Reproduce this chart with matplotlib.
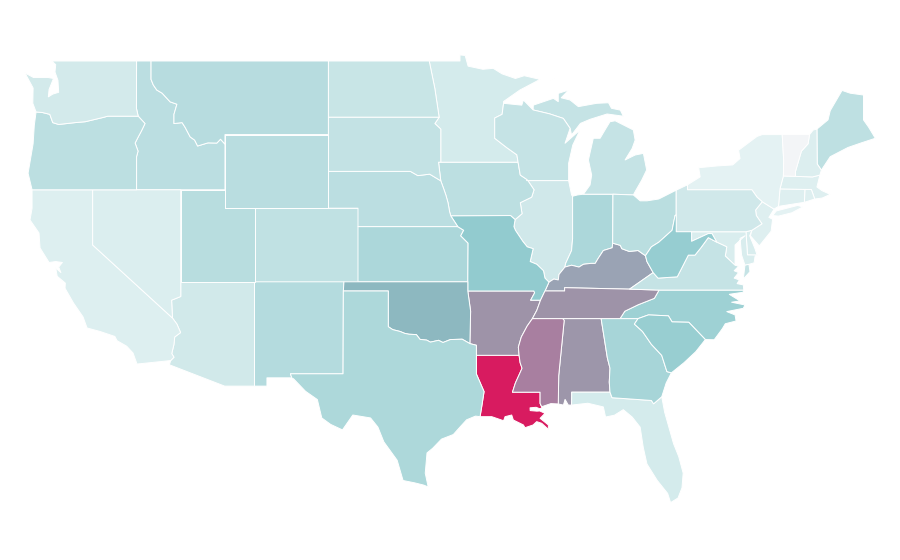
import matplotlib
matplotlib.use("Agg")
import matplotlib.pyplot as plt
from matplotlib.collections import PolyCollection
from matplotlib.colors import LinearSegmentedColormap, Normalize

# state value on the 0-1 colour scale
STATE_NAMES = ["AL", "AZ", "AR", "CA", "CO", "CT", "DE", "FL", "GA", "ID", "IL", "IN", "IA", "KS", "KY", "LA",
               "ME", "MD", "MA", "MI", "MN", "MS", "MO", "MT", "NE", "NV", "NH", "NJ", "NM", "NY", "NC", "ND",
               "OH", "OK", "OR", "PA", "RI", "SC", "SD", "TN", "TX", "UT", "VT", "VA", "WA", "WV", "WI", "WY"]
STATE_VALUES = [0.63, 0.128, 0.65, 0.085, 0.186, 0.08, 0.10, 0.114, 0.275, 0.207, 0.132, 0.26, 0.20, 0.26, 0.56, 1.0,
                0.193, 0.10, 0.08, 0.168, 0.114, 0.72, 0.35, 0.22, 0.204, 0.09, 0.086, 0.08, 0.229, 0.06, 0.307, 0.157,
                0.21, 0.45, 0.20, 0.132, 0.08, 0.33, 0.179, 0.65, 0.257, 0.218, 0.005, 0.168, 0.12, 0.336, 0.168, 0.214]

SCALE_STOPS = [0.0, 0.05, 0.2, 0.35, 0.45, 0.55, 0.65, 0.72, 1.0]
SCALE_COLORS = ["#f4f5f7", "#e6f3f4", "#bcdfe1", "#92cbcf", "#8db8c0", "#99a5b5", "#9e93a8", "#a880a0", "#d81b60"]

# shared borders as lon/lat, so that neighbouring states line up
COLUMBIA = [(-118.98, 46.0), (-119.3, 45.93), (-120.5, 45.7), (-121.2, 45.65), (-122.3, 45.55), (-122.7, 45.65),
            (-122.9, 46.1), (-123.4, 46.2), (-123.83, 46.23)]
SNAKE = [(-116.92, 46.0), (-116.46, 45.6), (-116.7, 45.2), (-116.9, 44.9), (-117.13, 44.54), (-116.93, 44.1),
         (-117.03, 43.8)]
ID_MT = [(-116.05, 48.0), (-115.9, 47.7), (-115.66, 47.42), (-115.3, 47.25), (-114.76, 46.78), (-114.3, 46.65),
         (-114.5, 46.1), (-114.5, 45.6), (-113.95, 45.65), (-113.75, 45.4), (-113.4, 44.87), (-113.1, 44.7),
         (-112.9, 44.38), (-112.2, 44.55), (-111.6, 44.54), (-111.35, 44.75), (-111.05, 44.48)]
COLORADO = [(-114.04, 36.2), (-114.66, 36.0), (-114.6, 35.03), (-114.3, 34.7), (-114.05, 34.24), (-114.45, 34.0),
            (-114.5, 33.6), (-114.65, 33.1), (-114.5, 32.9), (-114.72, 32.72)]
RED_RIVER = [(-100, 34.56), (-99.7, 34.4), (-99.2, 34.3), (-98.9, 34.2), (-98.6, 34.15), (-98.1, 34.13), (-97.85, 33.87),
             (-97.4, 33.83), (-97.15, 33.72), (-96.6, 33.82), (-96.3, 33.7), (-95.8, 33.86), (-95.4, 33.87), (-95.0, 33.88),
             (-94.48, 33.64)]
MO_RIVER_NORTH = [(-96.45, 42.49), (-96.25, 42.05), (-96.1, 41.7), (-95.96, 41.3), (-95.85, 40.8), (-95.77, 40.58)]
MO_RIVER_SOUTH = [(-95.3, 40.0), (-94.9, 39.8), (-95.1, 39.5), (-94.6, 39.1)]
MISS_UPPER = [(-91.22, 43.5), (-91.07, 42.8), (-90.6, 42.55), (-90.14, 42.0), (-90.3, 41.6), (-91.07, 41.3),
              (-90.95, 40.7), (-91.42, 40.38)]
MISS_MID = [(-91.5, 40.0), (-91.4, 39.8), (-90.9, 39.2), (-90.6, 38.9), (-90.2, 38.8), (-90.4, 38.1), (-89.95, 37.95),
            (-89.5, 37.6), (-89.4, 37.2), (-89.13, 36.98)]
MISS_BOOT = [(-89.4, 36.5), (-89.7, 36.0)]
MISS_TN = [(-89.7, 36.0), (-89.95, 35.45), (-90.25, 35.0)]
MISS_MS = [(-90.25, 35.0), (-90.6, 34.6), (-91.0, 34.0), (-91.2, 33.45), (-91.15, 33.0)]
MISS_LA = [(-91.15, 33.0), (-91.08, 32.6), (-90.95, 32.3), (-91.4, 31.5), (-91.6, 31.0)]
PEARL = [(-89.73, 31.0), (-89.73, 30.39), (-89.62, 30.21)]
SABINE = [(-94.04, 31.99), (-93.52, 31.03), (-93.68, 30.21), (-93.79, 29.67)]
OHIO_IL = [(-89.13, 36.98), (-88.8, 37.15), (-88.5, 37.1), (-88.45, 37.4), (-88.05, 37.8)]
OHIO_IN = [(-88.05, 37.8), (-87.6, 37.9), (-87.1, 37.8), (-86.8, 37.95), (-86.3, 38.0), (-86.0, 38.0), (-85.8, 38.27),
           (-85.45, 38.7), (-84.85, 38.85), (-84.82, 39.1)]
OHIO_OH = [(-84.82, 39.1), (-84.3, 38.98), (-84.2, 38.8), (-83.7, 38.65), (-83.1, 38.7), (-82.75, 38.5), (-82.6, 38.42)]
OHIO_WV = [(-82.6, 38.42), (-82.2, 38.9), (-81.7, 39.15), (-80.8, 39.8), (-80.6, 40.6), (-80.52, 40.64)]
KY_WV = [(-82.6, 38.42), (-82.5, 38.1), (-82.08, 37.5)]
WV_VA = [(-82.08, 37.5), (-81.75, 37.2), (-80.45, 37.27), (-79.7, 38.45), (-79.25, 38.45), (-78.85, 38.85), (-78.35, 39.4),
         (-77.77, 39.15)]
POTOMAC = [(-77.77, 39.15), (-77.1, 38.9), (-77.2, 38.4)]
TN_NC = [(-81.68, 36.55), (-82.0, 36.1), (-83.1, 35.75), (-84.0, 35.4), (-84.32, 35.0)]
NC_SC = [(-83.1, 35.0), (-82.4, 35.2), (-81.05, 35.15), (-80.8, 34.82), (-79.67, 34.8), (-78.55, 33.86)]
SAVANNAH = [(-83.1, 35.0), (-83.35, 34.7), (-82.8, 34.3), (-82.2, 33.6), (-81.5, 33.0), (-81.15, 32.12), (-80.85, 32.05)]
GA_AL = [(-85.6, 35.0), (-85.18, 32.87), (-85.0, 32.3), (-85.05, 31.55), (-85.0, 31.0)]
GA_FL = [(-85.0, 31.0), (-84.86, 30.7), (-82.2, 30.55), (-82.05, 30.37), (-81.5, 30.75)]
WI_MI = [(-90.2, 46.34), (-89.1, 46.13), (-88.16, 45.88), (-87.7, 45.34)]
MN_WI = [(-92.2, 46.7), (-92.3, 46.1), (-92.8, 45.9), (-92.8, 44.8), (-92.0, 44.3), (-91.3, 43.9), (-91.22, 43.5)]
NY_PA = [(-79.76, 42.27), (-79.76, 42.0), (-75.4, 42.0), (-75.05, 41.6), (-74.7, 41.35)]
NJ_PA = [(-74.7, 41.35), (-75.15, 40.9), (-75.1, 40.6), (-74.72, 40.15), (-75.4, 39.8)]
NH_VT = [(-71.5, 45.0), (-71.6, 44.5), (-72.05, 44.1), (-72.45, 43.0), (-72.46, 42.73)]

# state outlines, some states have more than one part
OUTLINES = {
    "WA": [[(-122.76, 49), (-117.03, 49), (-117.04, 46.43), (-116.92, 46.0)] + COLUMBIA +
           [(-124.05, 46.7), (-124.03, 47.53), (-124.58, 48.35), (-124.0, 48.1), (-123.0, 48.1), (-122.65, 48.05),
            (-122.95, 47.45), (-123.0, 47.05), (-122.7, 47.2), (-122.3, 47.3), (-122.35, 47.95), (-122.55, 48.4),
            (-122.5, 48.8)]],
    "OR": [COLUMBIA[::-1] + SNAKE + [(-117.03, 42), (-124.1, 42), (-124.37, 42.9), (-124.03, 44.5), (-123.95, 45.5)]],
    "ID": [[(-117.03, 49), (-116.05, 49)] + ID_MT + [(-111.05, 42), (-117.03, 42)] + SNAKE[::-1] + [(-117.04, 46.43)]],
    "MT": [[(-116.05, 49), (-104.05, 49), (-104.05, 45), (-111.05, 45)] + ID_MT[::-1]],
    "WY": [[(-111.05, 45), (-104.05, 45), (-104.05, 41), (-111.05, 41)]],
    "NV": [[(-120, 42), (-114.04, 42), (-114.04, 36.2), (-114.66, 36.0), (-114.6, 35.03), (-120, 39)]],
    "CA": [[(-124.1, 42), (-120, 42), (-120, 39)] + COLORADO[2:] +
           [(-117.0, 32.53), (-117.27, 33.13), (-117.7, 33.5), (-118.35, 33.8), (-118.5, 34.03), (-119.5, 34.3), (-120.38, 34.49),
            (-120.65, 35.09), (-121.3, 35.85), (-121.87, 36.65), (-121.85, 36.93), (-122.4, 37.3), (-122.5, 37.75),
            (-122.15, 37.5), (-122.3, 37.8), (-122.05, 38.05), (-122.5, 38.1), (-122.95, 38.05), (-123.56, 38.84),
            (-123.63, 39.65), (-124.24, 40.36), (-124.1, 41.0)]],
    "AZ": [[(-114.04, 37), (-109.05, 37), (-109.05, 31.33), (-111.07, 31.33), (-114.81, 32.49)] + COLORADO[::-1]],
    "UT": [[(-114.04, 42), (-111.05, 42), (-111.05, 41), (-109.05, 41), (-109.05, 37), (-114.04, 37)]],
    "CO": [[(-109.05, 41), (-102.05, 41), (-102.05, 37), (-109.05, 37)]],
    "NM": [[(-109.05, 37), (-103.0, 37), (-103.04, 36.5), (-103.06, 32), (-106.62, 32), (-106.53, 31.78),
            (-108.21, 31.78), (-108.21, 31.33), (-109.05, 31.33)]],
    "TX": [[(-103.04, 36.5), (-100, 36.5)] + RED_RIVER + [(-94.04, 33.55)] + SABINE +
           [(-94.1, 29.7), (-94.7, 29.5), (-95.1, 29.15), (-95.6, 28.7), (-96.4, 28.45), (-97.0, 27.95), (-97.38, 27.7), (-97.5, 26.6),
            (-97.3, 25.85), (-97.6, 25.95), (-98.2, 26.07), (-99.0, 26.2), (-99.4, 27.3), (-100.3, 28.3), (-100.7, 29.1),
            (-101.2, 29.6), (-102.4, 29.76), (-103.1, 28.95), (-103.9, 29.25), (-104.5, 29.6), (-104.8, 30.6), (-105.6, 31.05),
            (-106.4, 31.72), (-106.53, 31.78), (-106.62, 32), (-103.06, 32)]],
    "OK": [[(-103, 37), (-94.62, 37), (-94.62, 36.5), (-94.43, 35.4)] + RED_RIVER[::-1] + [(-100, 36.5), (-103.04, 36.5)]],
    "KS": [[(-102.05, 40)] + MO_RIVER_SOUTH + [(-94.62, 37), (-102.05, 37)]],
    "NE": [[(-104.05, 43), (-98.5, 43), (-98.0, 42.77), (-97.2, 42.85)] + MO_RIVER_NORTH +
           [(-95.3, 40), (-102.05, 40), (-102.05, 41), (-104.05, 41)]],
    "SD": [[(-104.05, 45.94), (-96.56, 45.94), (-96.85, 45.6), (-96.45, 45.3), (-96.45, 43.5), (-96.6, 43.5),
            (-96.45, 42.49), (-97.2, 42.85), (-98.0, 42.77), (-98.5, 43), (-104.05, 43)]],
    "ND": [[(-104.05, 49), (-97.23, 49), (-96.85, 47.5), (-96.56, 45.94), (-104.05, 45.94)]],
    "MN": [[(-97.23, 49), (-95.15, 49), (-95.15, 49.33), (-94.8, 49.3), (-94.6, 48.72), (-93.6, 48.55), (-92.9, 48.6),
            (-92.3, 48.3), (-91.4, 48.05), (-90.8, 48.2), (-89.73, 48.0), (-91.1, 47.42), (-92.2, 46.8)] + MN_WI +
           [(-96.45, 43.5), (-96.45, 45.3), (-96.85, 45.6), (-96.56, 45.94), (-96.85, 47.5)]],
    "IA": [[(-96.6, 43.5)] + MO_RIVER_NORTH + [(-91.73, 40.6)] + MISS_UPPER[::-1]],
    "MO": [[(-95.77, 40.58), (-91.73, 40.6), (-91.42, 40.38)] + MISS_MID + MISS_BOOT +
           [(-90.37, 36.0), (-90.1, 36.4), (-90.15, 36.5), (-94.62, 36.5), (-94.62, 37)] + MO_RIVER_SOUTH[::-1]],
    "AR": [[(-94.62, 36.5), (-90.15, 36.5), (-90.1, 36.4), (-90.37, 36)] + MISS_TN + MISS_MS +
           [(-94.04, 33), (-94.04, 33.55), (-94.48, 33.64), (-94.43, 35.4)]],
    "LA": [[(-94.04, 33)] + MISS_LA + PEARL[:2] +
           [(-89.6, 30.15), (-89.75, 30.1), (-90.0, 30.18), (-90.41, 30.15), (-90.4, 30.0), (-89.95, 29.97), (-89.75, 29.98),
            (-89.4, 29.85), (-89.73, 29.58), (-89.17, 29.22), (-89.17, 28.98), (-89.62, 29.31), (-89.96, 29.4),
            (-90.2, 29.22), (-90.75, 29.07), (-90.86, 29.22), (-91.54, 29.49), (-91.65, 29.76), (-92.1, 29.67),
            (-92.2, 29.45), (-93.0, 29.67)] + SABINE[::-1]],
    "MS": [[(-90.25, 35.0), (-88.2, 35.0), (-88.1, 34.9), (-88.47, 31.9), (-88.5, 30.36), (-89.0, 30.38)] + PEARL[::-1] +
           MISS_LA[::-1] + MISS_MS[::-1][1:]],
    "AL": [[(-88.2, 35)] + GA_AL + [(-87.6, 31), (-87.59, 30.85), (-87.6, 30.3), (-87.82, 30.3), (-88.04, 30.61),
                                    (-88.15, 30.3), (-88.5, 30.36), (-88.47, 31.9), (-88.1, 34.9)]],
    "TN": [MISS_BOOT[:1] + [(-88.07, 36.5), (-88.07, 36.68), (-83.68, 36.6)] + TN_NC + MISS_TN[::-1][:2] + MISS_TN[:1]],
    "KY": [[(-89.4, 36.5)] + OHIO_IL + OHIO_IN[1:] + OHIO_OH[1:] + KY_WV[1:] + [(-83.68, 36.6), (-88.07, 36.68), (-88.07, 36.5)]],
    "IL": [[(-90.6, 42.55), (-90.65, 42.5), (-87.8, 42.5), (-87.6, 41.72), (-87.53, 41.65), (-87.53, 39.35), (-87.6, 38.7), (-88.0, 38)] +
           OHIO_IL[::-1] + MISS_MID[::-1] + MISS_UPPER[::-1][:-3]],
    "IN": [[(-87.53, 41.65), (-87.2, 41.72), (-86.8, 41.76), (-84.8, 41.76)] + OHIO_IN[::-1] + [(-88, 38), (-87.6, 38.7), (-87.53, 39.35)]],
    "OH": [[(-84.8, 41.76), (-83.42, 41.72), (-82.96, 41.4), (-82.5, 41.4), (-81.7, 41.5), (-80.52, 41.98)] +
           OHIO_WV[::-1] + OHIO_OH[::-1]],
    "WV": [[(-80.52, 40.64), (-80.52, 39.72), (-79.48, 39.72), (-79.48, 39.2), (-78.35, 39.62), (-78.1, 39.62)] + [(-77.77, 39.15)] +
           WV_VA[::-1] + KY_WV[::-1] + OHIO_WV[1:]],
    "VA": [[(-83.68, 36.6), (-82.08, 37.5)] + WV_VA[1:] + POTOMAC[1:] +
           [(-76.54, 37.9), (-76.3, 37.85), (-76.6, 37.6), (-76.3, 37.5), (-76.6, 37.2), (-76.25, 37.1), (-76.4, 36.9),
            (-75.98, 36.83), (-75.95, 36.55), (-81.68, 36.55)],
           [(-75.98, 37.15), (-75.87, 37.9), (-75.6, 37.95), (-75.53, 37.55)]],
    "NC": [[(-84.32, 35), (-83.1, 35)] + NC_SC[1:] +
           [(-77.95, 33.85), (-77.4, 34.45), (-77.2, 34.72), (-76.47, 34.87), (-76.54, 35.2), (-77.1, 35.38), (-75.98, 35.56),
            (-75.87, 35.74), (-76.77, 35.89), (-76.2, 35.96), (-76.93, 36.32), (-76.0, 36.43), (-75.95, 36.55)] + TN_NC],
    "SC": [NC_SC + [(-79.2, 33.2), (-80.0, 32.6)] + SAVANNAH[::-1]],
    "GA": [[(-85.6, 35)] + SAVANNAH + [(-81.2, 31.5)] + GA_FL[::-1] + GA_AL[::-1][1:]],
    "FL": [[(-87.59, 31.0), (-85, 31)] + GA_FL[1:] +
           [(-81.3, 29.9), (-80.7, 28.2), (-80.35, 27.5), (-80.05, 26.6), (-80.13, 25.8), (-80.4, 25.25), (-80.9, 25.0),
            (-81.1, 25.5), (-81.8, 26.2), (-82.5, 27.1), (-82.75, 28.0), (-82.96, 29.1), (-83.5, 29.65), (-84.1, 30.05),
            (-84.7, 29.75), (-85.3, 29.65), (-85.45, 30.2), (-86.5, 30.4), (-87.6, 30.3), (-87.59, 30.85)]],
    "WI": [[(-92.2, 46.7), (-90.97, 46.6), (-90.86, 46.88)] + WI_MI +
           [(-88.04, 44.53), (-87.03, 45.25), (-87.52, 44.43), (-87.8, 43.44), (-87.8, 42.5), (-90.65, 42.5), (-90.6, 42.55),
            (-91.07, 42.8)] + MN_WI[::-1]],
    "MI": [[(-90.2, 46.34), (-90.19, 46.6), (-88.83, 46.97), (-88.5, 46.79), (-88.5, 47.24), (-87.8, 47.42), (-88.3, 47.0),
            (-87.7, 46.88), (-87.14, 46.52), (-85.9, 46.7), (-85.1, 46.73), (-84.9, 46.43), (-84.3, 46.33), (-84.1, 46.0),
            (-85.2, 46.12), (-86.35, 45.83), (-87.0, 45.61), (-87.6, 44.98), (-87.7, 45.34), (-88.16, 45.88), (-89.1, 46.13)],
           [(-89.1, 47.87), (-88.65, 48.05), (-88.9, 47.97)],
           [(-84.8, 41.76), (-86.8, 41.76), (-86.35, 42.26), (-86.24, 42.8), (-86.46, 43.62), (-86.13, 44.8), (-85.67, 44.8), (-85.34, 45.25),
            (-85.0, 45.7), (-84.65, 45.75), (-83.42, 45.25), (-83.3, 44.7), (-83.5, 44.25), (-83.98, 43.62), (-83.3, 43.89),
            (-82.74, 43.98), (-82.52, 43.08), (-82.85, 42.53), (-83.3, 41.9), (-83.42, 41.72)]],
    "NY": [NY_PA[:1] + [(-78.9, 42.7), (-79.0, 43.2), (-77.7, 43.3), (-76.7, 43.35), (-76.2, 43.7), (-76.3, 44.15), (-75.05, 44.9),
            (-74.7, 45), (-73.35, 45), (-73.25, 43.6), (-73.27, 42.75), (-73.5, 42.05), (-73.6, 41.1), (-73.9, 40.95)] + NY_PA[::-1][:-1],
           [(-74.0, 40.6), (-73.75, 40.85), (-72.3, 41.15), (-71.95, 41.07), (-72.7, 40.75), (-73.6, 40.57)]],
    "PA": [[(-80.52, 41.98)] + NY_PA + NJ_PA[1:] + [(-75.8, 39.72), (-80.52, 39.72)]],
    "NJ": [[(-74.7, 41.35), (-73.9, 40.95), (-74.25, 40.5), (-74.0, 40.4), (-74.1, 39.75), (-74.9, 38.95), (-75.5, 39.5)] + NJ_PA[::-1][:-1]],
    "DE": [[(-75.8, 39.72), (-75.4, 39.8), (-75.55, 39.5), (-75.19, 38.8), (-75.05, 38.45), (-75.7, 38.46)]],
    "MD": [[(-79.48, 39.72), (-75.8, 39.72), (-75.7, 38.46), (-75.05, 38.45), (-75.19, 38.37), (-75.25, 38.03), (-75.6, 37.95),
            (-75.87, 37.9), (-76.1, 38.46), (-76.2, 39.36), (-75.87, 39.5), (-76.54, 39.0), (-76.54, 38.28), (-76.54, 37.9)] +
           POTOMAC[::-1] + [(-78.1, 39.62), (-78.35, 39.62), (-79.48, 39.2)]],
    "CT": [[(-73.5, 42.05), (-71.8, 42.02), (-71.85, 41.32), (-73.6, 41.1)]],
    "RI": [[(-71.8, 42.02), (-71.38, 42.02), (-71.15, 41.5), (-71.85, 41.32)]],
    "MA": [[(-73.5, 42.05), (-73.27, 42.75), (-72.46, 42.73), (-71.3, 42.7), (-70.8, 42.8), (-71.0, 42.15), (-70.65, 41.95),
            (-70.1, 41.75), (-70.65, 41.55), (-71.15, 41.5), (-71.38, 42.02), (-71.8, 42.02)]],
    "VT": [[(-73.35, 45)] + NH_VT + [(-73.27, 42.75), (-73.25, 43.6)]],
    "NH": [NH_VT[:1] + [(-71.25, 45.25), (-71.0, 45.3), (-70.98, 43.4), (-70.7, 43.07), (-70.8, 42.8), (-71.3, 42.7)] + NH_VT[::-1][:-1]],
    "ME": [[(-71.0, 45.3), (-70.25, 45.8), (-70.1, 46.3), (-69.3, 47.4), (-68.75, 47.25), (-67.85, 47.15), (-67.85, 45.8),
            (-67.5, 45.4), (-67.05, 44.8), (-68.0, 44.55), (-68.9, 44.3), (-70.1, 43.8), (-70.7, 43.07), (-70.98, 43.4)]],
}

LON_RANGE = (-126.27, -65.38)
LAT_RANGE = (21.88, 52.315)


def plot_map(output_png="out.png"):
    fig = plt.figure(figsize=(9, 5.6), dpi=100)
    ax = fig.add_axes([0, 0, 1, 1])

    # one polygon per part, each part carries the value of its state
    polys = []
    values = []
    for name, value in zip(STATE_NAMES, STATE_VALUES):
        for part in OUTLINES[name]:
            polys.append(part)
            values.append(value)

    cmap = LinearSegmentedColormap.from_list("rate", list(zip(SCALE_STOPS, SCALE_COLORS)))
    states = PolyCollection(polys, array=values, cmap=cmap, norm=Normalize(0, 1), edgecolors="white", linewidths=0.7)
    ax.add_collection(states)

    ax.set_xlim(*LON_RANGE)
    ax.set_ylim(*LAT_RANGE)
    ax.axis("off")
    fig.savefig(output_png, dpi=100, facecolor="white")
    plt.close(fig)


if __name__ == "__main__":
    plot_map()
